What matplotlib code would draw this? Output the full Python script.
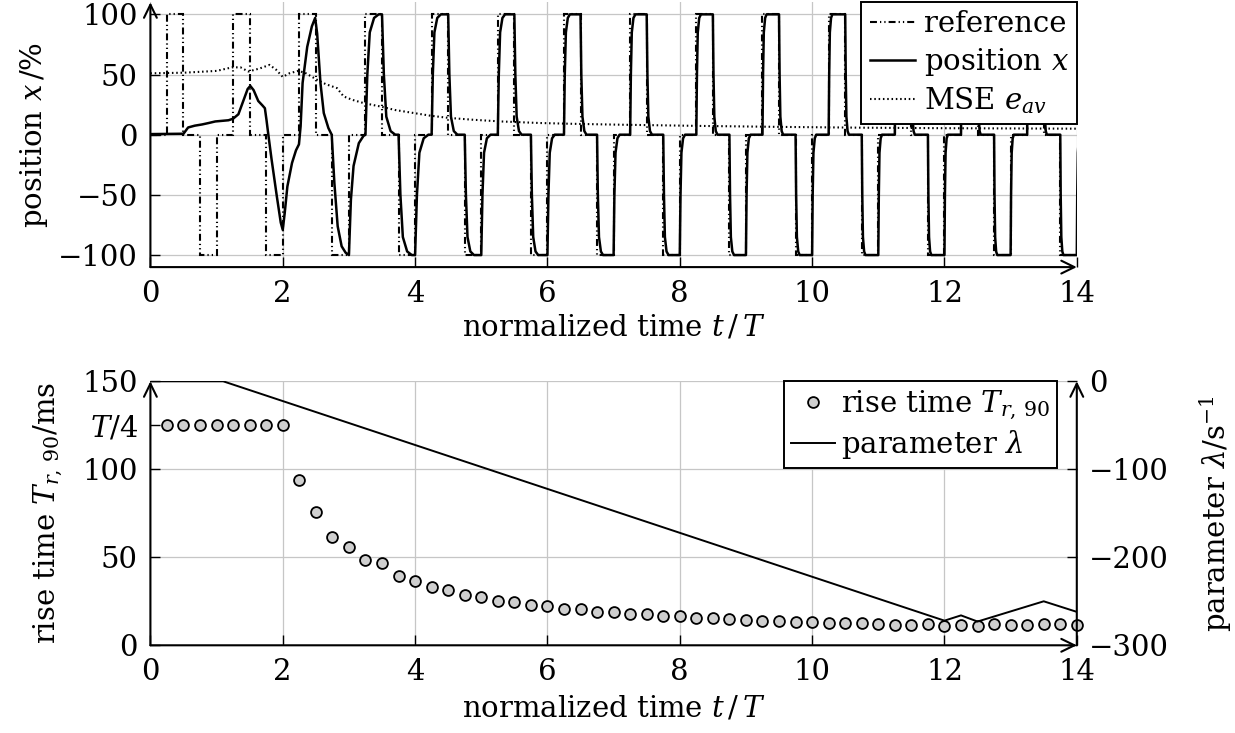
import numpy as np
import matplotlib
matplotlib.use("Agg")
import matplotlib.pyplot as plt
from matplotlib.lines import Line2D

FS = 21
plt.rcParams.update({
    "font.family": ["DejaVu Serif"],
    "mathtext.fontset": "dejavuserif",
    "font.size": FS,
    "lines.scale_dashes": False,
})

# ---------------------------------------------------------------- data
# quarter-period grid of the square-wave reference (t in units of T)
quarter_edges = np.linspace(0.0, 14.0, 57)
ref_levels = [
    0, 100, 0, -100, 0, 100, 0, -100, 0, 100, 0, -100, 0, 100,
    0, -100, 0, 100, 0, -100, 0, 100, 0, -100, 0, 100, 0, -100,
    0, 100, 0, -100, 0, 100, 0, -100, 0, 100, 0, -100, 0, 100,
    0, -100, 0, 100, 0, -100, 0, 100, 0, -100, 0, 100, 0, -100,
]

# position during the initial learning phase
transient_t = [0.0, 0.5, 0.53, 0.57, 0.67, 0.78, 0.88, 0.98, 1.18, 1.25, 1.33,
               1.41, 1.47, 1.51, 1.56, 1.63, 1.69, 1.73, 1.755, 1.78, 1.83,
               1.91, 1.97, 2.0, 2.03, 2.07, 2.14, 2.2, 2.245, 2.27, 2.3, 2.37,
               2.44, 2.49, 2.52, 2.57, 2.62, 2.69, 2.74, 2.78, 2.83, 2.89,
               2.95, 3.0, 3.03, 3.07, 3.15, 3.22, 3.25]
transient_x = [0.5, 0.8, 3, 6, 7.5, 8.5, 9.7, 11, 12, 13.3, 17,
               29, 38, 40.5, 37, 28, 24.5, 22, 12, 1, -20,
               -51, -73, -79, -65, -43, -23.5, -13, -8, 7, 43, 73,
               90, 97, 84, 43, 18, 5.5, 0, -40, -76, -92.7,
               -98, -100, -54, -26, -7, -1, 0]

# later periods: transition points after each reference edge
periods = [3, 4, 5, 6, 7, 8, 9, 10, 11, 12, 13]
edge_offsets = [
    [0, 0.028, 0.065, 0.13, 0.20],
    [0, 0.018, 0.042, 0.085, 0.14],
    [0, 0.015, 0.035, 0.070, 0.11],
    [0, 0.012, 0.029, 0.058, 0.09],
    [0, 0.011, 0.025, 0.050, 0.08],
    [0, 0.0095, 0.022, 0.044, 0.07],
    [0, 0.0085, 0.020, 0.040, 0.062],
    [0, 0.008, 0.018, 0.036, 0.056],
    [0, 0.007, 0.017, 0.033, 0.052],
    [0, 0.0065, 0.016, 0.031, 0.048],
    [0, 0.0065, 0.016, 0.031, 0.048],
]
edge_quarters = [0.25, 0.5, 0.75, 1.0]
rise_vals = [0, 50, 85, 97, 100]
fall_vals = [100, 50, 15, 3, 0]
down_vals = [0, -50, -85, -97, -100]
back_vals = [-100, -50, -15, -3, 0]

# moving-average squared error
mse_t = [0.0, 0.5, 1.0, 1.23, 1.36, 1.48, 1.65, 1.8, 1.9, 2.0, 2.1, 2.24, 2.35,
         2.52, 2.65, 2.82, 2.92, 3.05, 3.22, 3.47, 3.7, 3.98, 4.23, 4.5,
         4.88, 5.3, 5.89, 6.34, 7.0, 8.3, 9.5, 10.8, 12.0, 13.0, 14.0]
mse_v = [51, 51.5, 53, 55.9, 56, 52.5, 55, 58, 54, 48, 51, 53.1, 51,
         45.6, 42, 38.7, 31.8, 29, 26.3, 23.5, 20.5, 18, 15.8, 14,
         12.4, 11, 9.7, 9.1, 8.4, 7.3, 6.5, 5.8, 5.4, 5.2, 5.0]

# rise time T_r,90 in ms, one value per quarter period
rise_time = [125, 125, 125, 125, 125, 125, 125, 125,
             94, 76, 61.6, 55.7, 48.3, 46.8, 39.2, 36.5,
             33, 31.4, 28.8, 27.3, 25.2, 24.4, 22.7, 22.3,
             20.8, 20.5, 19.1, 18.75, 17.7, 17.6, 16.8, 16.5,
             15.7, 15.3, 15.0, 14.6, 13.8, 13.8, 13.4, 13.3,
             12.5, 12.5, 12.5, 12.1, 11.7, 11.7, 12.1, 11.0,
             11.4, 11.0, 12.1, 11.7, 11.7, 12.1, 12.1, 11.7]

# adaptation parameter lambda in 1/s
lam_t = [0.0, 1.1, 12.0, 12.25, 12.5, 13.5, 14.0]
lam_v = [0, 0, -272, -266, -273, -250, -262]

x_ticks = [0, 2, 4, 6, 8, 10, 12, 14]
pos_ticks = [-100, -50, 0, 50, 100]
rise_ticks = [0, 50, 100, 150]
lam_ticks = [-300, -200, -100, 0]

# ------------------------------------------------ assemble position trace
pos_t = list(transient_t)
pos_x = list(transient_x)
for n, offs in zip(periods, edge_offsets):
    for q, vals in zip(edge_quarters, [rise_vals, fall_vals, down_vals, back_vals]):
        pos_t += [n + q + o for o in offs]
        pos_x += vals

# ---------------------------------------------------------------- figure
W, H = 1235, 733
fig = plt.figure(figsize=(W / 100, H / 100), dpi=100)
x0, x1 = 150.4, 1076.8
ax_top = fig.add_axes([x0 / W, 1 - 267.1 / H, (x1 - x0) / W, 264.8 / H])
ax_bot = fig.add_axes([x0 / W, 1 - 645.3 / H, (x1 - x0) / W, 264.0 / H])

GRID = "#c6c6c6"
LW_AX = 1.5
REF_DASH = (0, (5, 2.2, 0.9, 2.2, 0.9, 2.2))
MSE_DOT = (0, (1.1, 2.0))


def arrow(ax, start, end):
    ax.annotate("", xy=end, xytext=start, xycoords="axes fraction",
                textcoords="axes fraction", annotation_clip=False,
                arrowprops=dict(arrowstyle="->,head_length=0.45,head_width=0.22",
                                lw=LW_AX, color="black", shrinkA=0, shrinkB=0),
                zorder=10)


def style(ax):
    for s in ax.spines.values():
        s.set_visible(False)
    ax.tick_params(direction="in", length=7, width=1.0, pad=9,
                   labelsize=FS, top=False, right=False)


# ---------------------------------------------------------- top panel
ax = ax_top
style(ax)
ax.set_xlim(0, 14)
ax.set_ylim(-110, 110)
ax.set_xticks(x_ticks)
ax.set_yticks(pos_ticks)
ax.grid(True, color=GRID, lw=0.9)
ax.set_axisbelow(True)

ax.stairs(ref_levels, quarter_edges, baseline=None, color="black", lw=1.5,
          linestyle=REF_DASH, zorder=3)
ax.plot(pos_t, pos_x, color="black", lw=1.8, zorder=4)
ax.plot(mse_t, mse_v, color="black", lw=1.5, linestyle=MSE_DOT, zorder=4)

arrow(ax, (0, 0), (0, 1))
arrow(ax, (0, 0), (1, 0))

ax.set_xlabel(r"normalized time $t\,/\,T$", labelpad=4)
ax.set_ylabel(r"position $x\,$/%")
ax.yaxis.set_label_coords(-0.108, 0.5)

h_top = [
    Line2D([], [], color="black", lw=1.5, linestyle=REF_DASH),
    Line2D([], [], color="black", lw=1.8),
    Line2D([], [], color="black", lw=1.5, linestyle=MSE_DOT),
]
leg = ax.legend(h_top, ["reference", r"position $x$", r"MSE $e_{av}$"],
                loc="upper right", bbox_to_anchor=(1.0, 1.0), borderaxespad=0,
                fancybox=False, framealpha=1, edgecolor="black",
                handlelength=1.55, handletextpad=0.3, labelspacing=0.25,
                borderpad=0.28, fontsize=FS)
leg.get_frame().set_linewidth(1.4)
leg.set_zorder(20)

# ------------------------------------------------------- bottom panel
ax = ax_bot
style(ax)
ax.set_xlim(0, 14)
ax.set_ylim(0, 150)
ax.set_xticks(x_ticks)
ax.set_yticks(rise_ticks)
ax.set_yticks([125], [r"$T/4$"], minor=True)
ax.tick_params(which="minor", direction="in", length=7, width=1.0, pad=9,
               labelsize=FS, right=False)
ax.grid(True, which="major", color=GRID, lw=0.9)
ax.set_axisbelow(True)

ax.plot(quarter_edges[1:], rise_time, linestyle="none", marker="o",
        markersize=7.8, markerfacecolor="#cfcfcf", markeredgecolor="black",
        markeredgewidth=1.3, clip_on=False, zorder=5)

ax.set_xlabel(r"normalized time $t\,/\,T$", labelpad=6)
ax.set_ylabel(r"rise time $T_{r,\,90}$/ms")
ax.yaxis.set_label_coords(-0.092, 0.5)

ax_r = ax.twinx()
for s in ax_r.spines.values():
    s.set_visible(False)
ax_r.set_ylim(-300, 0)
ax_r.set_yticks(lam_ticks)
ax_r.tick_params(direction="in", length=7, width=1.0, pad=9, labelsize=FS,
                 left=False, right=True)
ax_r.plot(lam_t, lam_v, color="black", lw=1.4, zorder=3)
ax_r.set_ylabel(r"parameter $\lambda$/s$^{-1}$")
ax_r.yaxis.set_label_coords(1.13, 0.5)

arrow(ax_r, (0, 0), (0, 1))
arrow(ax_r, (0, 0), (1, 0))
arrow(ax_r, (1, 0), (1, 1))

h_bot = [
    Line2D([], [], linestyle="none", marker="o", markersize=7.8,
           markerfacecolor="#cfcfcf", markeredgecolor="black", markeredgewidth=1.3),
    Line2D([], [], color="black", lw=1.4),
]
leg2 = ax_r.legend(h_bot, [r"rise time $T_{r,\,90}$", r"parameter $\lambda$"],
                   loc="upper right", bbox_to_anchor=((1057 - x0) / (x1 - x0), 1.0),
                   borderaxespad=0, fancybox=False, framealpha=1,
                   edgecolor="black", handlelength=1.5, handletextpad=0.2,
                   labelspacing=0.2, borderpad=0.25, fontsize=FS)
leg2.get_frame().set_linewidth(1.4)
leg2.set_zorder(20)

fig.savefig("out.png", dpi=100)
